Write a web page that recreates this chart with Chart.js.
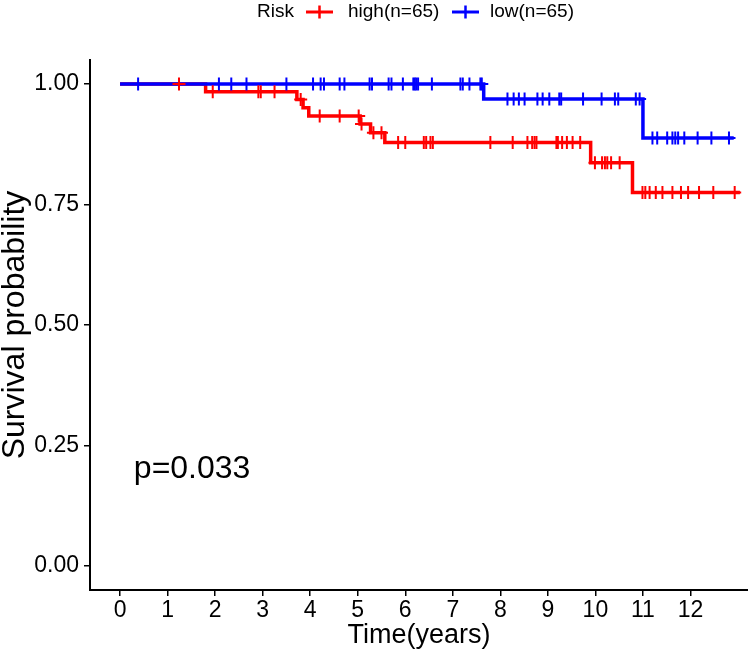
<!DOCTYPE html>
<html>
<head>
<meta charset="utf-8">
<script src="https://cdn.jsdelivr.net/npm/chart.js@4.4.1/dist/chart.umd.min.js"></script>
<style>
  html, body { margin: 0; padding: 0; background: #fff; }
</style>
</head>
<body>
<canvas id="km" width="748" height="658"></canvas>
<script>
// ticks
const xTicks = [0, 1, 2, 3, 4, 5, 6, 7, 8, 9, 10, 11, 12];
const yTicks = [0, 0.25, 0.5, 0.75, 1];

// high risk group: step times / survival after the step, and censored times
const highTimes = [0, 1.80, 3.72, 3.85, 3.97, 5.05, 5.27, 5.57, 9.90, 10.78, 13.04];
const highSurv = [1, 0.984, 0.968, 0.951, 0.934, 0.917, 0.899, 0.879, 0.837, 0.775, 0.775];
const highCensor = [1.24, 1.95, 2.91, 2.96, 3.25, 3.80, 4.20, 4.62, 5.02, 5.08, 5.33, 5.50,
  5.85, 6.00, 6.39, 6.44, 6.53, 6.58, 7.79, 8.26, 8.57, 8.67, 8.72, 8.76, 9.18, 9.21, 9.30,
  9.40, 9.52, 9.68, 9.99, 10.14, 10.20, 10.25, 10.33, 10.51, 10.99, 11.05, 11.14, 11.27,
  11.41, 11.62, 11.80, 11.95, 12.18, 12.48, 12.93];

// low risk group
const lowTimes = [0, 7.65, 11.00, 12.91];
const lowSurv = [1, 0.969, 0.888, 0.888];
const lowCensor = [0.38, 2.08, 2.34, 2.66, 3.50, 4.06, 4.22, 4.29, 4.62, 4.72, 5.25, 5.30,
  5.65, 5.71, 5.95, 6.17, 6.20, 6.23, 6.27, 6.56, 7.16, 7.21, 7.35, 7.58, 7.61, 8.15, 8.28,
  8.39, 8.51, 8.78, 8.89, 9.03, 9.24, 9.28, 9.74, 10.13, 10.41, 10.48, 10.85, 10.93, 11.20,
  11.30, 11.51, 11.62, 11.68, 11.74, 11.87, 12.15, 12.44, 12.81];

const groupLabels = ['high(n=65)', 'low(n=65)'];
const groupColors = ['#FF0000', '#0000FF'];
const legendTitle = 'Risk';
const pValueText = 'p=0.033';

const FONT = "'Liberation Sans', Arial, Helvetica, sans-serif";

function survAt(times, surv, t) {
  let s = surv[0];
  for (let i = 0; i < times.length; i++) {
    if (times[i] <= t) s = surv[i];
  }
  return s;
}

const stepPoints = (times, surv) => times.map((t, i) => ({ x: t, y: surv[i] }));
const censorPoints = (cens, times, surv) => cens.map(t => ({ x: t, y: survAt(times, surv, t) }));

// legend + p-value drawn on top
const extras = {
  id: 'extras',
  afterDraw(chart) {
    const ctx = chart.ctx;
    ctx.save();
    ctx.fillStyle = '#000';
    ctx.font = '19px ' + FONT;
    ctx.textBaseline = 'middle';
    ctx.textAlign = 'left';
    const ly = 12;
    ctx.fillText(legendTitle, 257, ly);
    const items = [{ x: 306, tx: 348 }, { x: 452, tx: 490 }];
    items.forEach((it, i) => {
      ctx.strokeStyle = groupColors[i];
      ctx.lineWidth = 3;
      ctx.beginPath();
      ctx.moveTo(it.x, ly); ctx.lineTo(it.x + 27, ly);
      ctx.stroke();
      ctx.lineWidth = 2.5;
      ctx.beginPath();
      ctx.moveTo(it.x + 13.5, ly - 6.5); ctx.lineTo(it.x + 13.5, ly + 6.5);
      ctx.stroke();
      ctx.fillStyle = '#000';
      ctx.fillText(groupLabels[i], it.tx, ly);
    });

    const xs = chart.scales.x, ys = chart.scales.y;
    ctx.font = '32px ' + FONT;
    ctx.fillText(pValueText, xs.getPixelForValue(0.29), ys.getPixelForValue(0.2));
    ctx.restore();
  }
};

new Chart(document.getElementById('km'), {
  type: 'scatter',
  data: {
    datasets: [
      {
        label: 'low censor',
        data: censorPoints(lowCensor, lowTimes, lowSurv),
        pointStyle: 'cross', pointRadius: 6.5, pointBorderWidth: 2,
        borderColor: groupColors[1], backgroundColor: groupColors[1]
      },
      {
        label: 'high censor',
        data: censorPoints(highCensor, highTimes, highSurv),
        pointStyle: 'cross', pointRadius: 6.5, pointBorderWidth: 2,
        borderColor: groupColors[0], backgroundColor: groupColors[0]
      },
      {
        label: groupLabels[1],
        data: stepPoints(lowTimes, lowSurv),
        showLine: true, stepped: true, pointRadius: 0,
        borderColor: groupColors[1], borderWidth: 3.5
      },
      {
        label: groupLabels[0],
        data: stepPoints(highTimes, highSurv),
        showLine: true, stepped: true, pointRadius: 0,
        borderColor: groupColors[0], borderWidth: 3.5
      }
    ]
  },
  options: {
    responsive: false,
    animation: false,
    devicePixelRatio: 1,
    layout: { autoPadding: false, padding: { top: 60, left: 0, right: 0, bottom: 0 } },
    plugins: { legend: { display: false }, tooltip: { enabled: false } },
    scales: {
      x: {
        type: 'linear', min: -0.632, max: 13.21,
        afterBuildTicks: s => { s.ticks = xTicks.map(v => ({ value: v })); },
        afterFit: s => { s.height = 68; s.paddingLeft = 0; s.paddingRight = 0; },
        grid: { drawOnChartArea: false, tickLength: 6, color: '#000', lineWidth: 1.5 },
        border: { color: '#000', width: 2 },
        ticks: { color: '#000', font: { family: FONT, size: 23 }, padding: 1, maxRotation: 0, autoSkip: false },
        title: { display: true, text: 'Time(years)', color: '#000', font: { family: FONT, size: 27 }, padding: { top: 0, bottom: 6 } }
      },
      y: {
        type: 'linear', min: -0.05, max: 1.05,
        afterBuildTicks: s => { s.ticks = yTicks.map(v => ({ value: v })); },
        afterFit: s => { s.width = 90; s.paddingTop = 0; s.paddingBottom = 0; },
        grid: { drawOnChartArea: false, tickLength: 6, color: '#000', lineWidth: 1.5 },
        border: { color: '#000', width: 2 },
        ticks: { color: '#000', font: { family: FONT, size: 23 }, padding: 5, callback: v => v.toFixed(2) },
        title: { display: true, text: 'Survival probability', color: '#000', font: { family: FONT, size: 32 }, padding: { top: -4, bottom: 0 } }
      }
    }
  },
  plugins: [extras]
});
</script>
</body>
</html>
